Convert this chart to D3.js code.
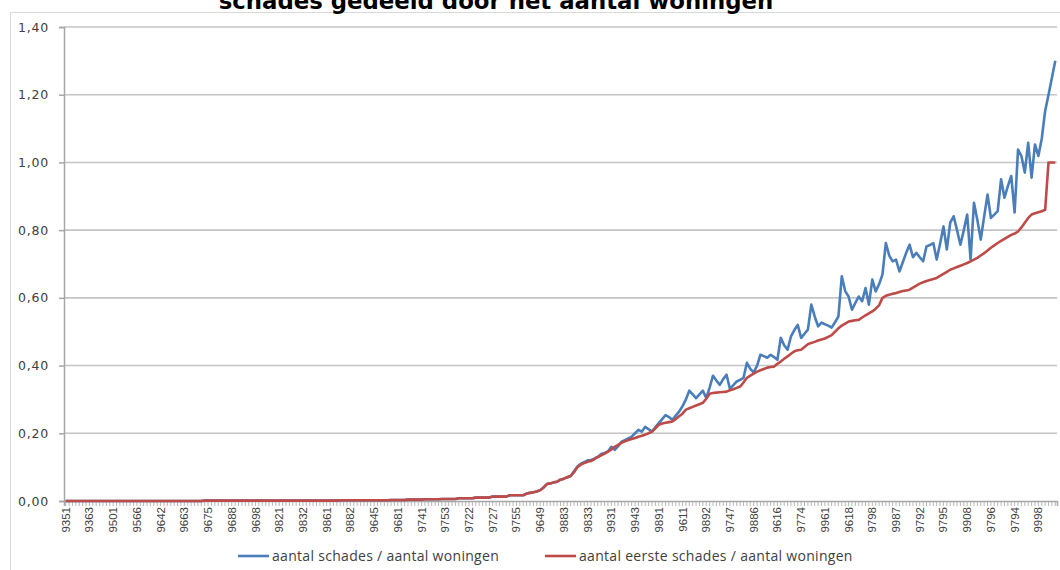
<!DOCTYPE html>
<html>
<head>
<meta charset="utf-8">
<script src="https://d3js.org/d3.v7.min.js"></script>
<style>
  body { margin: 0; background: #fff; }
  svg { display: block; }
  .y-axis text { font-family: "DejaVu Sans", sans-serif; font-size: 12.5px; letter-spacing: 0.8px; fill: #404040; }
  .x-axis text { font-family: "Liberation Sans", sans-serif; font-size: 11.5px; fill: #404040; }
  .legend text { font-family: "Open Sans", sans-serif; font-size: 14px; letter-spacing: 0.3px; fill: #404040; }
</style>
</head>
<body>
<svg></svg>
<script>
// tick labels shown on the x axis (every 7th postcode)
var tickLabels = ['9351','9363','9501','9566','9642','9663','9675','9688','9698','9821',
  '9832','9861','9882','9645','9681','9741','9753','9722','9727','9755',
  '9649','9883','9833','9931','9943','9891','9611','9892','9747','9886',
  '9616','9774','9961','9618','9798','9987','9792','9795','9908','9796',
  '9794','9998'];
var labelEvery = 7;
var nCategories = 293;

var yTicks = [0, 0.2, 0.4, 0.6, 0.8, 1.0, 1.2, 1.4];

// aantal eerste schades / aantal woningen
var firstDamages = [
  0,0,0,0,0,0,0,0,0,0,
  0,0,0,0,0,0,0,0,0,0,
  0,0,0,0,0,0,0,0,0,0,
  0,0,0,0,0,0,0,0,0,0,
  0,0.001,0.001,0.001,0.001,0.001,0.001,0.001,0.001,0.001,
  0.001,0.001,0.001,0.001,0.001,0.001,0.001,0.001,0.001,0.001,
  0.001,0.001,0.001,0.001,0.001,0.001,0.001,0.001,0.001,0.001,
  0.001,0.001,0.001,0.001,0.001,0.001,0.001,0.001,0.001,0.001,
  0.001,0.002,0.002,0.002,0.002,0.002,0.002,0.002,0.002,0.002,
  0.002,0.002,0.002,0.002,0.002,0.002,0.003,0.003,0.003,0.003,
  0.003,0.004,0.004,0.004,0.004,0.004,0.005,0.005,0.005,0.005,
  0.005,0.006,0.006,0.006,0.006,0.006,0.008,0.008,0.008,0.008,
  0.008,0.010,0.010,0.010,0.010,0.010,0.013,0.013,0.013,0.013,
  0.013,0.017,0.017,0.017,0.017,0.017,0.022,0.024,0.026,0.028,
  0.032,0.04,0.05,0.052,0.055,0.057,0.063,0.066,0.07,0.074,
  0.085,0.1,0.108,0.112,0.116,0.118,0.124,0.13,0.135,0.14,
  0.146,0.152,0.16,0.166,0.172,0.176,0.18,0.183,0.186,0.19,
  0.193,0.196,0.2,0.205,0.215,0.225,0.229,0.231,0.233,0.235,
  0.242,0.25,0.258,0.27,0.274,0.278,0.282,0.286,0.29,0.302,
  0.317,0.319,0.32,0.321,0.322,0.323,0.327,0.33,0.334,0.338,
  0.35,0.364,0.37,0.376,0.382,0.386,0.39,0.394,0.396,0.397,
  0.405,0.412,0.42,0.427,0.435,0.442,0.445,0.447,0.455,0.463,
  0.467,0.47,0.474,0.477,0.48,0.485,0.49,0.5,0.51,0.518,
  0.524,0.53,0.532,0.534,0.535,0.542,0.548,0.554,0.56,0.568,
  0.578,0.6,0.606,0.609,0.612,0.614,0.617,0.62,0.622,0.624,
  0.63,0.636,0.642,0.646,0.65,0.653,0.656,0.659,0.665,0.671,
  0.677,0.683,0.687,0.691,0.695,0.699,0.703,0.708,0.713,0.718,
  0.725,0.732,0.74,0.748,0.755,0.762,0.768,0.774,0.78,0.786,
  0.79,0.796,0.808,0.822,0.836,0.846,0.85,0.853,0.856,0.86,
  1.0,1.0,1.0
];

// aantal schades / aantal woningen
var allDamages = [
  0,0,0,0,0,0,0,0,0,0,
  0,0,0,0,0,0,0,0,0,0,
  0,0,0,0,0,0,0,0,0,0,
  0,0,0,0,0,0,0,0,0,0,
  0,0.001,0.001,0.001,0.001,0.001,0.001,0.001,0.001,0.001,
  0.001,0.001,0.001,0.001,0.001,0.001,0.001,0.001,0.001,0.001,
  0.001,0.001,0.001,0.001,0.001,0.001,0.001,0.001,0.001,0.001,
  0.001,0.001,0.001,0.001,0.001,0.001,0.001,0.001,0.001,0.001,
  0.001,0.002,0.002,0.002,0.002,0.002,0.002,0.002,0.002,0.002,
  0.002,0.002,0.002,0.002,0.002,0.002,0.003,0.003,0.003,0.003,
  0.003,0.004,0.004,0.004,0.004,0.004,0.005,0.005,0.005,0.005,
  0.005,0.006,0.006,0.006,0.006,0.006,0.008,0.008,0.008,0.008,
  0.008,0.010,0.010,0.010,0.010,0.010,0.013,0.013,0.013,0.013,
  0.013,0.017,0.017,0.017,0.017,0.017,0.022,0.024,0.026,0.028,
  0.032,0.04,0.05,0.052,0.055,0.057,0.063,0.066,0.07,0.074,
  0.088,0.102,0.11,0.115,0.12,0.121,0.125,0.13,0.139,0.142,
  0.146,0.16,0.151,0.162,0.175,0.18,0.185,0.19,0.2,0.21,
  0.205,0.219,0.212,0.205,0.218,0.23,0.242,0.254,0.248,0.24,
  0.252,0.264,0.28,0.3,0.326,0.315,0.304,0.315,0.326,0.304,
  0.335,0.37,0.356,0.343,0.36,0.373,0.331,0.342,0.353,0.358,
  0.364,0.408,0.39,0.38,0.4,0.432,0.428,0.423,0.432,0.425,
  0.417,0.482,0.46,0.447,0.486,0.505,0.52,0.482,0.494,0.506,
  0.58,0.545,0.516,0.527,0.522,0.518,0.512,0.528,0.545,0.664,
  0.62,0.604,0.565,0.585,0.604,0.59,0.629,0.58,0.654,0.619,
  0.64,0.669,0.762,0.725,0.708,0.713,0.678,0.705,0.733,0.757,
  0.72,0.733,0.72,0.708,0.752,0.756,0.762,0.713,0.76,0.811,
  0.743,0.822,0.841,0.8,0.757,0.8,0.846,0.713,0.881,0.83,
  0.772,0.84,0.905,0.836,0.846,0.856,0.95,0.896,0.93,0.96,
  0.852,1.038,1.019,0.97,1.058,0.955,1.053,1.019,1.07,1.152,
  1.2,1.25,1.3
];

var seriesNames = ['aantal schades / aantal woningen', 'aantal eerste schades / aantal woningen'];
var seriesColors = ['#4a7ebb', '#be4b48'];

// size
var W = 1060, H = 570;
var margin = {top: 27, right: 3, bottom: 69, left: 64};
var width = W - margin.left - margin.right,
    height = H - margin.top - margin.bottom;

var svg = d3.select('svg').attr('width', W).attr('height', H);

// chart area border (cut off by the picture edge)
svg.append('rect')
  .attr('x', 10.5).attr('y', 12.5)
  .attr('width', W + 20).attr('height', H + 20)
  .attr('fill', 'none').attr('stroke', '#d9d9d9');

// title (its top is outside the picture, as in the original)
svg.append('text')
  .attr('x', 496).attr('y', 9)
  .attr('text-anchor', 'middle')
  .style('font-family', '"DejaVu Sans", sans-serif')
  .style('font-weight', 'bold')
  .style('font-size', '22.8px')
  .text('schades gedeeld door het aantal woningen');

var g = svg.append('g')
  .attr('transform', 'translate(' + margin.left + ',' + margin.top + ')');

var xScale = d3.scaleBand().domain(d3.range(nCategories)).range([0, width]).padding(0);
var yScale = d3.scaleLinear().domain([0, 1.4]).range([height, 0]);
var xCenter = function (i) { return xScale(i) + xScale.bandwidth() / 2; };

// gridlines
g.append('g').selectAll('line').data(yTicks.slice(1))
  .enter().append('line')
    .attr('x1', 0).attr('x2', width)
    .attr('y1', function (d) { return yScale(d); })
    .attr('y2', function (d) { return yScale(d); })
    .attr('stroke', '#c4c4c4').attr('stroke-width', 1.6);

// y axis
var yAxis = d3.axisLeft(yScale)
  .tickValues(yTicks)
  .tickSize(5)
  .tickPadding(10)
  .tickFormat(function (d) { return d3.format('.2f')(d).replace('.', ','); });
var yG = g.append('g').attr('class', 'y-axis').call(yAxis);
yG.selectAll('line, path').attr('stroke', '#a6a6a6').attr('stroke-width', 1.5);

// x axis
var xAxis = d3.axisBottom(xScale)
  .tickSize(5)
  .tickFormat(function (i) { return i % labelEvery === 0 ? tickLabels[i / labelEvery] : ''; });
var xG = g.append('g').attr('class', 'x-axis')
  .attr('transform', 'translate(0,' + height + ')')
  .call(xAxis);
xG.select('.domain').attr('stroke', '#a6a6a6').attr('stroke-width', 1.5);
xG.selectAll('.tick line').attr('stroke', '#a6a6a6').attr('stroke-width', 0.8);
xG.selectAll('.tick text')
  .attr('transform', 'rotate(-90)')
  .attr('x', -6).attr('y', 0).attr('dy', '0.35em')
  .style('text-anchor', 'end');

// lines
var line = d3.line()
  .x(function (d, i) { return xCenter(i); })
  .y(function (d) { return yScale(d); });

[allDamages, firstDamages].forEach(function (values, k) {
  g.append('path')
    .datum(values)
    .attr('fill', 'none')
    .attr('stroke', seriesColors[k])
    .attr('stroke-width', 2.6)
    .attr('stroke-linejoin', 'round')
    .attr('d', line);
});

// legend
var legendX = [238, 545];
var legend = svg.selectAll('.legend').data(seriesNames)
  .enter().append('g')
    .attr('class', 'legend')
    .attr('transform', function (d, i) { return 'translate(' + legendX[i] + ',556)'; });
legend.append('line')
  .attr('x1', 0).attr('x2', 31).attr('y1', 0).attr('y2', 0)
  .attr('stroke', function (d, i) { return seriesColors[i]; })
  .attr('stroke-width', 2.6);
legend.append('text')
  .attr('x', 34).attr('y', 0).attr('dy', '0.35em')
  .text(function (d) { return d; });
</script>
</body>
</html>
